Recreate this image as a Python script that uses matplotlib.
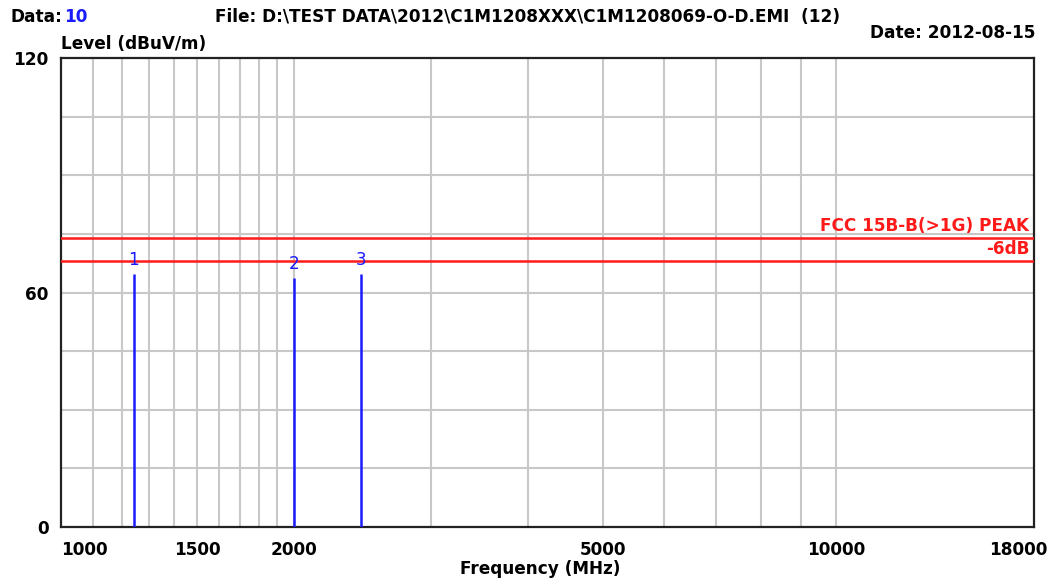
import numpy as np
import matplotlib
matplotlib.use("Agg")
import matplotlib.pyplot as plt
import matplotlib.ticker as ticker
from matplotlib.transforms import ScaledTranslation

plt.rcParams["font.family"] = ["DejaVu Sans"]

# ---- data --------------------------------------------------------------------
marker_ids = ["1", "2", "3"]
marker_freq = [1242, 2000, 2438]          # MHz
marker_level = [64.7, 63.6, 64.7]         # dBuV/m

limit_peak = 74.0                         # FCC 15B-B(>1G) PEAK
limit_margin = 68.0                       # -6dB

x_ticks = [1000, 1500, 2000, 5000, 10000, 18000]
y_ticks = [0, 60, 120]
x_grid = list(range(1100, 2001, 100)) + list(range(3000, 10001, 1000))
y_grid = [15, 30, 45, 60, 75, 90, 105]

GRID = "#c8c8c8"
BLUE = "#1a1aff"
RED = "#ff1a1a"
FS = 12.2

fig = plt.figure(figsize=(10.5, 5.78), dpi=100)
ax = fig.add_axes([61 / 1050, 51 / 578, 973 / 1050, 469 / 578])

ax.set_xscale("log")
ax.set_xlim(1000, 18000)
ax.set_ylim(0, 120)

for xv in x_grid:
    ax.axvline(xv, color=GRID, lw=1.5, zorder=1)
for yv in y_grid:
    ax.axhline(yv, color=GRID, lw=1.5, zorder=1)

# limit lines
ax.axhline(limit_peak, color=RED, lw=1.8, zorder=3)
ax.axhline(limit_margin, color=RED, lw=1.8, zorder=3)
ax.text(0.995, limit_peak + 0.8, "FCC 15B-B(>1G) PEAK", color=RED, fontsize=FS,
        fontweight="bold", ha="right", va="bottom",
        transform=ax.get_yaxis_transform())
ax.text(0.995, limit_margin + 0.8, "-6dB", color=RED, fontsize=FS,
        fontweight="bold", ha="right", va="bottom",
        transform=ax.get_yaxis_transform())

# markers
ax.vlines(marker_freq, 0, marker_level, color=BLUE, lw=1.8, zorder=4)
for mid, f, lv in zip(marker_ids, marker_freq, marker_level):
    ax.text(f, lv + 1.4, mid, color=BLUE, fontsize=FS, ha="center", va="bottom")

# axes styling
for sp in ax.spines.values():
    sp.set_color("#222222")
    sp.set_linewidth(1.6)
ax.xaxis.set_major_locator(ticker.FixedLocator(x_ticks))
ax.xaxis.set_minor_locator(ticker.NullLocator())
ax.set_xticklabels([str(v) for v in x_ticks])
ax.set_yticks(y_ticks)
ax.set_yticklabels([str(v) for v in y_ticks])
ax.tick_params(axis="both", length=0, labelsize=FS)
ax.tick_params(axis="x", pad=10)
ax.tick_params(axis="y", pad=9)
for lab in ax.get_xticklabels() + ax.get_yticklabels():
    lab.set_fontweight("bold")
xlabs = ax.get_xticklabels()
xlabs[0].set_ha("left")
xlabs[-1].set_ha("right")
xlabs[-1].set_transform(xlabs[-1].get_transform()
                        + ScaledTranslation(13 / 100, 0, fig.dpi_scale_trans))

ax.text(0.0, 1.01, "Level (dBuV/m)", transform=ax.transAxes, fontsize=FS,
        fontweight="bold", ha="left", va="bottom")
fig.text(0.515, 0.0, "Frequency (MHz)", fontsize=FS, fontweight="bold",
         ha="center", va="bottom")

# header
fig.text(10 / 1050, 1 - 17 / 578, "Data:", fontsize=FS, fontweight="bold",
         ha="left", va="center")
fig.text(64 / 1050, 1 - 17 / 578, "10", fontsize=FS, fontweight="bold",
         color=BLUE, ha="left", va="center")
fig.text(215 / 1050, 1 - 17 / 578,
         "File: D:\\TEST DATA\\2012\\C1M1208XXX\\C1M1208069-O-D.EMI  (12)",
         fontsize=FS, fontweight="bold", ha="left", va="center")
fig.text(1035 / 1050, 1 - 33 / 578, "Date: 2012-08-15", fontsize=FS,
         fontweight="bold", ha="right", va="center")

fig.savefig("out.png", dpi=100)
